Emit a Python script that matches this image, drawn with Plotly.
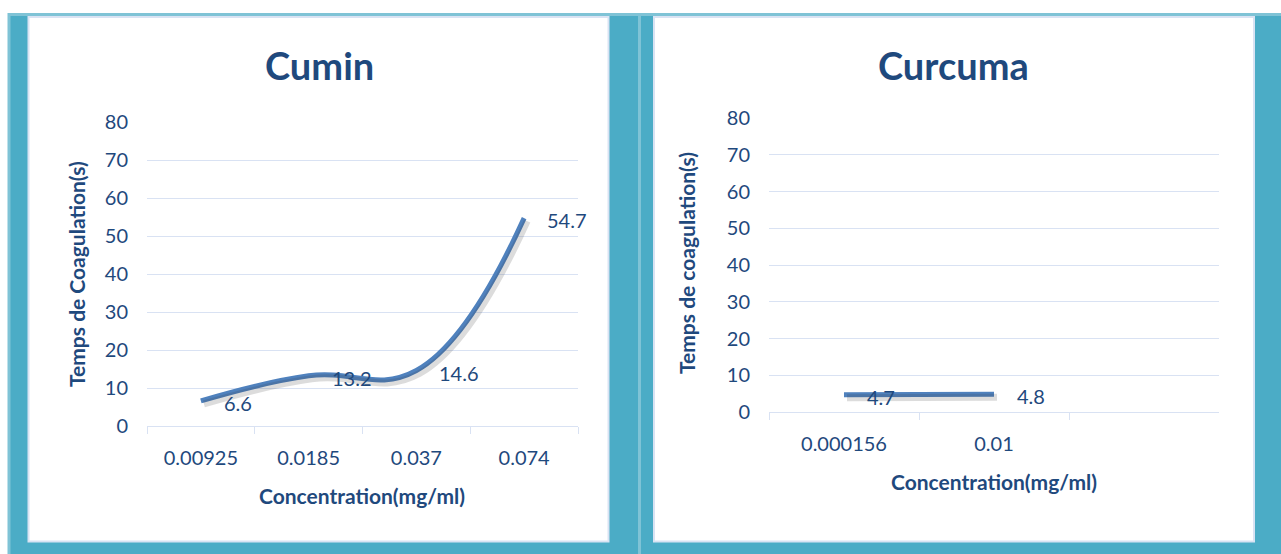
import plotly.graph_objects as go

# Coagulation time vs. extract concentration
cumin_conc = ["0.00925", "0.0185", "0.037", "0.074"]
cumin_time = [6.6, 13.2, 14.6, 54.7]

curcuma_conc = ["0.000156", "0.01"]
curcuma_time = [4.7, 4.8]
curcuma_slots = ["0.000156", "0.01", " "]

y_ticks = [0, 10, 20, 30, 40, 50, 60, 70, 80]

W, H = 1281, 554
TEAL = "#4BACC6"
TEAL_LIGHT = "#7FC3D6"
PANEL_EDGE = "#D9E3F3"
GRID = "#D9E2F3"
TXT = "#1F497D"
LINE = "#4F81BD"
FONT = "Lato"
SMOOTH = 1.2


def px(x):
    return x / W


def py(y):
    return 1 - y / H


fig = go.Figure()

# empty trailing slot on the Curcuma category axis
fig.add_trace(go.Scatter(x=curcuma_slots, y=[None] * len(curcuma_slots),
                         mode="lines", xaxis="x2", yaxis="y2",
                         hoverinfo="skip", showlegend=False))

# soft shadow under each line, drawn on axes nudged a few pixels down-right
shadow = dict(color="rgba(60,60,60,0.18)", width=7, shape="spline",
              smoothing=SMOOTH)
fig.add_trace(go.Scatter(x=cumin_conc, y=cumin_time, mode="lines",
                         line=shadow, xaxis="x3", yaxis="y3",
                         hoverinfo="skip", showlegend=False))
fig.add_trace(go.Scatter(x=curcuma_conc, y=curcuma_time, mode="lines",
                         line=shadow, xaxis="x4", yaxis="y4",
                         hoverinfo="skip", showlegend=False))

main = dict(color=LINE, width=5, shape="spline", smoothing=SMOOTH)
fig.add_trace(go.Scatter(x=cumin_conc, y=cumin_time, mode="lines",
                         line=main, xaxis="x", yaxis="y", showlegend=False))
fig.add_trace(go.Scatter(x=curcuma_conc, y=curcuma_time, mode="lines",
                         line=main, xaxis="x2", yaxis="y2", showlegend=False))

tick_font = dict(family=FONT, size=20, color=TXT)

# plot-area geometry in pixels
L = dict(x0=147, x1=578, y0=122, y1=426)
R = dict(x0=769, x1=1219, y0=118, y1=412)
SH = 3  # shadow offset in pixels


def xax(g, cats, rng, dx=0, visible=True):
    d = dict(domain=[px(g["x0"] + dx), px(g["x1"] + dx)],
             type="category", categoryorder="array", categoryarray=cats,
             range=rng, fixedrange=True, automargin=False)
    if visible:
        d.update(showline=True, linecolor=GRID, linewidth=1,
                 ticks="outside", tickson="boundaries", ticklen=7,
                 tickcolor=GRID, tickwidth=1, showgrid=False,
                 zeroline=False, tickfont=tick_font, ticklabelstandoff=14)
    else:
        d.update(visible=False)
    return d


def yax(g, anchor, dy=0, visible=True):
    d = dict(domain=[py(g["y1"] + dy), py(g["y0"] + dy)], range=[0, 80],
             anchor=anchor, fixedrange=True, automargin=False)
    if visible:
        d.update(tickvals=y_ticks, showgrid=True, gridcolor=GRID,
                 gridwidth=1, zeroline=False, showline=False, ticks="",
                 tickfont=tick_font, ticklabelstandoff=18)
    else:
        d.update(visible=False)
    return d


fig.update_layout(
    template="none",
    width=W, height=H,
    margin=dict(l=0, r=0, t=0, b=0, pad=0),
    paper_bgcolor="white", plot_bgcolor="rgba(0,0,0,0)",
    showlegend=False,
    font=dict(family=FONT, color=TXT),
    xaxis=xax(L, cumin_conc, [-0.5, 3.5]) | dict(anchor="y"),
    yaxis=yax(L, "x"),
    xaxis2=xax(R, curcuma_slots, [-0.5, 2.5]) | dict(anchor="y2"),
    yaxis2=yax(R, "x2"),
    xaxis3=xax(L, cumin_conc, [-0.5, 3.5], dx=SH, visible=False) | dict(anchor="y3"),
    yaxis3=yax(L, "x3", dy=SH, visible=False),
    xaxis4=xax(R, curcuma_slots, [-0.5, 2.5], dx=SH, visible=False) | dict(anchor="y4"),
    yaxis4=yax(R, "x4", dy=SH, visible=False),
)

# background frame and white panels
shapes = [
    dict(type="rect", xref="paper", yref="paper", x0=px(9), x1=px(W + 5),
         y0=py(H + 5), y1=py(14.5), fillcolor=TEAL,
         line=dict(color=TEAL_LIGHT, width=3), layer="below"),
    dict(type="line", xref="paper", yref="paper", x0=px(639.5), x1=px(639.5),
         y0=py(H), y1=py(16), line=dict(color=TEAL_LIGHT, width=3),
         layer="below"),
    dict(type="rect", xref="paper", yref="paper", x0=px(28.5), x1=px(608.5),
         y0=py(541.5), y1=py(17), fillcolor="white",
         line=dict(color=PANEL_EDGE, width=2), layer="below"),
    dict(type="rect", xref="paper", yref="paper", x0=px(654), x1=px(1254),
         y0=py(541.5), y1=py(17), fillcolor="white",
         line=dict(color=PANEL_EDGE, width=2), layer="below"),
]
fig.update_layout(shapes=shapes)


def note(text, x, y, size, angle=0):
    return dict(text=text, x=px(x), y=py(y), xref="paper", yref="paper",
                xanchor="center", yanchor="middle", showarrow=False,
                textangle=angle, font=dict(family=FONT, size=size, color=TXT))


ann = [
    note("<b>Cumin</b>", 319, 65, 38),
    note("<b>Curcuma</b>", 953, 65, 38),
    note("<b>Concentration(mg/ml)</b>", 362, 495, 21),
    note("<b>Concentration(mg/ml)</b>", 994, 481, 21),
    note("<b>Temps de Coagulation(s)</b>", 77, 274, 21, -90),
    note("<b>Temps de coagulation(s)</b>", 686, 263, 21, -90),
]

# value labels to the right of each point (category index positions)
lbl = dict(family=FONT, size=20, color=TXT)
for i, v in enumerate(cumin_time):
    ann.append(dict(text=f"{v}", x=i, y=v, xref="x", yref="y",
                    xanchor="left", yanchor="middle", xshift=21, yshift=-2,
                    showarrow=False, font=lbl))
for i, v in enumerate(curcuma_time):
    ann.append(dict(text=f"{v}", x=i, y=v, xref="x2", yref="y2",
                    xanchor="left", yanchor="middle", xshift=21, yshift=-2,
                    showarrow=False, font=lbl))
fig.update_layout(annotations=ann)

fig.write_html("out.html")
